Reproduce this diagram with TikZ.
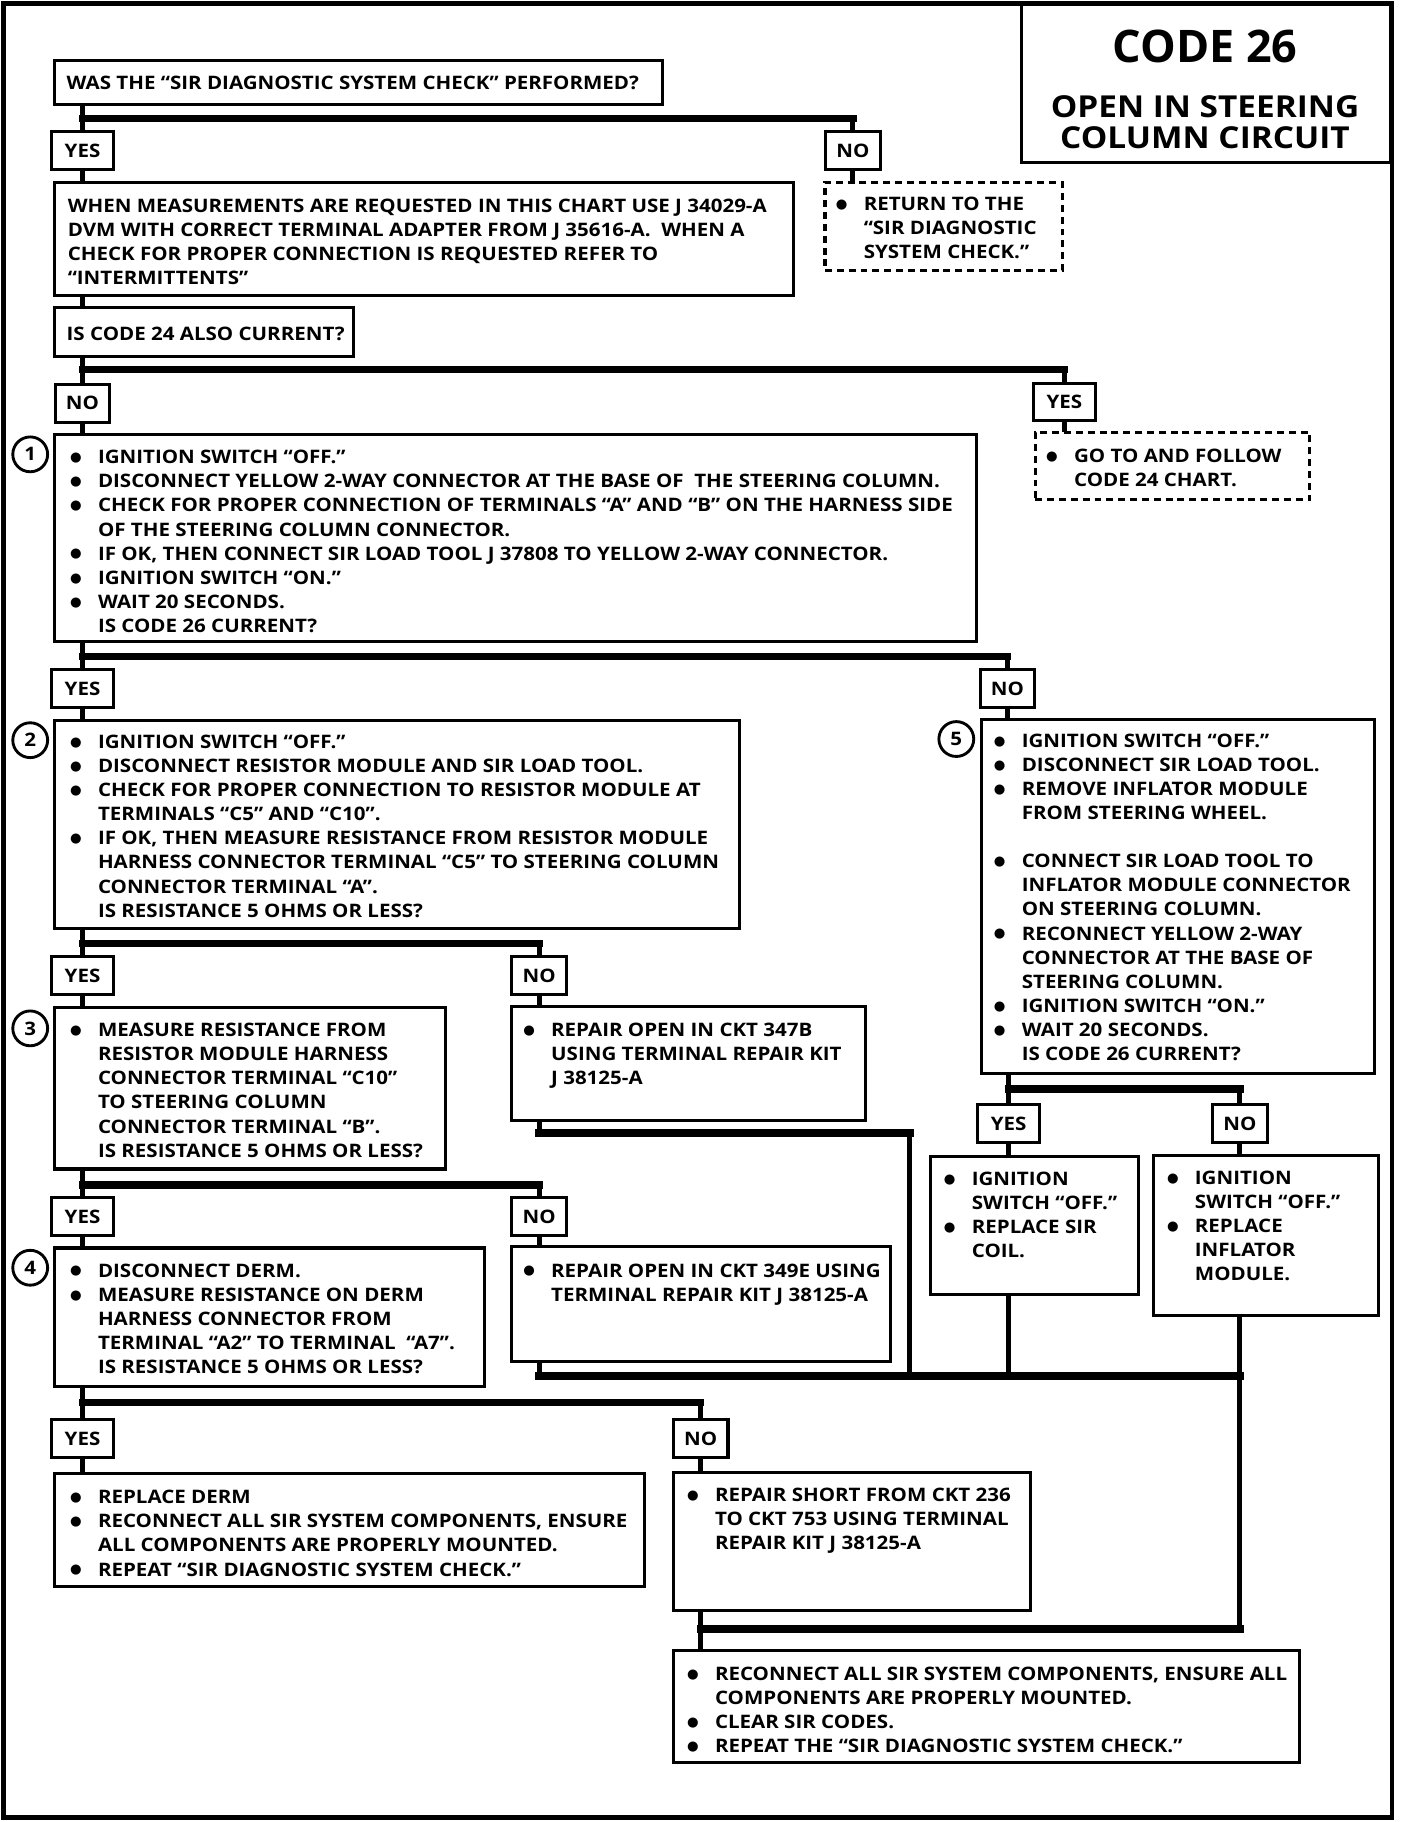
\documentclass[tikz,border=0pt]{standalone}
\usepackage{fontspec}
\setmainfont{Open Sans}[FakeStretch=1.105]
\newfontfamily\plainsans{Open Sans}
\newfontfamily\dotfont{DejaVu Sans}
\usetikzlibrary{calc}

\newcommand{\itm}{\makebox[0.48cm][l]{\raisebox{1.1pt}{\dotfont\fontsize{6.5}{6.5}\selectfont ●}}}
\newcommand{\hng}{\hspace*{0.48cm}}

\begin{document}
\begin{tikzpicture}[
    x=0.02cm, y=-0.02cm,
    font=\bfseries\fontsize{9.1}{11.8}\selectfont,
    sz/.style 2 args={minimum width=#1*0.02cm, minimum height=#2*0.02cm},
    box/.style={draw, line width=1.5pt, anchor=north west, inner sep=0pt, outer sep=0pt},
    dbox/.style={box, dashed, dash pattern=on 3.4pt off 2.4pt},
    txt/.style={anchor=north west, inner sep=0pt, align=left},
    tag/.style={draw, line width=1.5pt, inner sep=0pt, outer sep=0pt, minimum height=0.65cm},
    tagyes/.style={tag, minimum width=1.06cm},
    tagno/.style={tag, minimum width=0.94cm},
    num/.style={draw, circle, line width=1.4pt, inner sep=0pt, minimum size=0.6cm},
    stem/.style={line width=2.5pt},
    bar/.style={line width=3.7pt, line cap=rect}
]
\useasboundingbox (0,0) rectangle (1212,1568);

% Frame and title
\draw[line width=2.3pt] (3,3) rectangle (1198,1564);
\node[box, sz={318}{137}] (title) at (879,3) {};
\node[font=\plainsans\bfseries\fontsize{22}{24}\selectfont] (code) at (1037,40) {CODE 26};
\node[font=\bfseries\fontsize{14.8}{15}\selectfont] (what1) at (1037,91.5) {OPEN IN STEERING};
\node[font=\bfseries\fontsize{14.8}{15}\selectfont] (what2) at (1037,118.4) {COLUMN CIRCUIT};

% First question
\node[box, sz={523}{38}] (q0) at (47,52) {};
\node[txt] (q0-t) at (57,65.2) {WAS THE “SIR DIAGNOSTIC SYSTEM CHECK” PERFORMED?};

\node[tagyes] (yes0) at (71,129.5) {YES};
\node[tagno] (no0) at (734,129.5) {NO};
\coordinate (f0) at (71,102);
\draw[stem] (q0.south -| f0) -- (yes0);
\draw[bar] (f0) -- (f0 -| no0);
\draw[stem] (f0 -| no0) -- (no0);

\node[box, sz={636}{97}] (intro) at (47,157) {};
\node[txt] (intro-t) at (58,170.7) {WHEN MEASUREMENTS ARE REQUESTED IN THIS CHART USE J 34029-A\\
DVM WITH CORRECT TERMINAL ADAPTER FROM J 35616-A.\ \ WHEN A\\
CHECK FOR PROPER CONNECTION IS REQUESTED REFER TO\\
“INTERMITTENTS”};
\node[dbox, sz={204}{76}] (ret) at (710,157) {};
\node[txt] (ret-t) at (719,169.2) {\itm RETURN TO THE\\
\hng “SIR DIAGNOSTIC\\
\hng SYSTEM CHECK.”};
\draw[stem] (yes0) -- (yes0 |- intro.north);
\draw[stem] (no0) -- (no0 |- ret.north);

% Code 24 question
\node[box, sz={257}{42}] (q24) at (47,265) {};
\node[txt] (q24-t) at (57,281.5) {IS CODE 24 ALSO CURRENT?};
\draw[stem] (intro.south -| f0) -- (q24.north -| f0);

\node[tagno] (no1) at (71,347) {NO};
\node[tagyes] (yes1) at (916,346) {YES};
\coordinate (f1) at (71,318);
\draw[stem] (q24.south -| f1) -- (no1);
\draw[bar] (f1) -- (f1 -| yes1);
\draw[stem] (f1 -| yes1) -- (yes1);

\node[dbox, sz={236}{58}] (go24) at (891,372) {};
\node[txt] (go24-t) at (900,386.2) {\itm GO TO AND FOLLOW\\
\hng CODE 24 CHART.};
\draw[stem] (yes1) -- (yes1 |- go24.north);

% Step 1
\node[box, sz={793}{178}] (step1) at (47,374) {};
\node[num] (n1) at (26,391) {1};
\node[txt] (step1-t) at (60,387.2) {\itm IGNITION SWITCH “OFF.”\\
\itm DISCONNECT YELLOW 2-WAY CONNECTOR AT THE BASE OF\ \ THE STEERING COLUMN.\\
\itm CHECK FOR PROPER CONNECTION OF TERMINALS “A” AND “B” ON THE HARNESS SIDE\\
\hng OF THE STEERING COLUMN CONNECTOR.\\
\itm IF OK, THEN CONNECT SIR LOAD TOOL J 37808 TO YELLOW 2-WAY CONNECTOR.\\
\itm IGNITION SWITCH “ON.”\\
\itm WAIT 20 SECONDS.\\
\hng IS CODE 26 CURRENT?};
\draw[stem] (no1) -- (no1 |- step1.north);

\node[tagyes] (yes2) at (71,592.5) {YES};
\node[tagno] (no2) at (867,592.5) {NO};
\coordinate (f2) at (71,565);
\draw[stem] (step1.south -| f2) -- (yes2);
\draw[bar] (f2) -- (f2 -| no2);
\draw[stem] (f2 -| no2) -- (no2);

% Step 2
\node[box, sz={589}{179}] (step2) at (47,620) {};
\node[num] (n2) at (26,637) {2};
\node[txt] (step2-t) at (60,632.2) {\itm IGNITION SWITCH “OFF.”\\
\itm DISCONNECT RESISTOR MODULE AND SIR LOAD TOOL.\\
\itm CHECK FOR PROPER CONNECTION TO RESISTOR MODULE AT\\
\hng TERMINALS “C5” AND “C10”.\\
\itm IF OK, THEN MEASURE RESISTANCE FROM RESISTOR MODULE\\
\hng HARNESS CONNECTOR TERMINAL “C5” TO STEERING COLUMN\\
\hng CONNECTOR TERMINAL “A”.\\
\hng IS RESISTANCE 5 OHMS OR LESS?};
\draw[stem] (yes2) -- (yes2 |- step2.north);

% Step 5
\node[box, sz={338}{305}] (step5) at (845,619) {};
\node[num] (n5) at (823,636) {5};
\node[txt] (step5-t) at (855,631.2) {\itm IGNITION SWITCH “OFF.”\\
\itm DISCONNECT SIR LOAD TOOL.\\
\itm REMOVE INFLATOR MODULE\\
\hng FROM STEERING WHEEL.\\[11.8pt]
\itm CONNECT SIR LOAD TOOL TO\\
\hng INFLATOR MODULE CONNECTOR\\
\hng ON STEERING COLUMN.\\
\itm RECONNECT YELLOW 2-WAY\\
\hng CONNECTOR AT THE BASE OF\\
\hng STEERING COLUMN.\\
\itm IGNITION SWITCH “ON.”\\
\itm WAIT 20 SECONDS.\\
\hng IS CODE 26 CURRENT?};
\draw[stem] (no2) -- (no2 |- step5.north);

\node[tagyes] (yes5) at (868,967) {YES};
\node[tagno] (no5) at (1067,967) {NO};
\coordinate (f5) at (868,937);
\draw[stem] (step5.south -| f5) -- (yes5);
\draw[bar] (f5) -- (f5 -| no5);
\draw[stem] (f5 -| no5) -- (no5);

\node[box, sz={179}{119}] (coil) at (801,995) {};
\node[txt] (coil-t) at (812,1008.2) {\itm IGNITION\\
\hng SWITCH “OFF.”\\
\itm REPLACE SIR\\
\hng COIL.};
\node[box, sz={193}{138}] (infl) at (993,994) {};
\node[txt] (infl-t) at (1004,1007.2) {\itm IGNITION\\
\hng SWITCH “OFF.”\\
\itm REPLACE\\
\hng INFLATOR\\
\hng MODULE.};
\draw[stem] (yes5) -- (yes5 |- coil.north);
\draw[stem] (no5) -- (no5 |- infl.north);

% Step 3
\node[tagyes] (yes3) at (71,839.5) {YES};
\node[tagno] (no3) at (464,839.5) {NO};
\coordinate (f3) at (71,812);
\draw[stem] (step2.south -| f3) -- (yes3);
\draw[bar] (f3) -- (f3 -| no3);
\draw[stem] (f3 -| no3) -- (no3);

\node[box, sz={336}{139}] (step3) at (47,867) {};
\node[num] (n3) at (26,885) {3};
\node[txt] (step3-t) at (60,880.2) {\itm MEASURE RESISTANCE FROM\\
\hng RESISTOR MODULE HARNESS\\
\hng CONNECTOR TERMINAL “C10”\\
\hng TO STEERING COLUMN\\
\hng CONNECTOR TERMINAL “B”.\\
\hng IS RESISTANCE 5 OHMS OR LESS?};
\node[box, sz={305}{98}] (rep1) at (440,866) {};
\node[txt] (rep1-t) at (450,880.2) {\itm REPAIR OPEN IN CKT 347B\\
\hng USING TERMINAL REPAIR KIT\\
\hng J 38125-A};
\draw[stem] (yes3) -- (yes3 |- step3.north);
\draw[stem] (no3) -- (no3 |- rep1.north);

% Step 4
\node[tagyes] (yes4) at (71,1047) {YES};
\node[tagno] (no4) at (464,1047) {NO};
\coordinate (f4) at (71,1020);
\draw[stem] (step3.south -| f4) -- (yes4);
\draw[bar] (f4) -- (f4 -| no4);
\draw[stem] (f4 -| no4) -- (no4);

\node[box, sz={370}{119}] (step4) at (47,1074) {};
\node[num] (n4) at (26,1091) {4};
\node[txt] (step4-t) at (60,1087.2) {\itm DISCONNECT DERM.\\
\itm MEASURE RESISTANCE ON DERM\\
\hng HARNESS CONNECTOR FROM\\
\hng TERMINAL “A2” TO TERMINAL\ \ “A7”.\\
\hng IS RESISTANCE 5 OHMS OR LESS?};
\node[box, sz={326}{99}] (rep2) at (440,1073) {};
\node[txt] (rep2-t) at (450,1087.2) {\itm REPAIR OPEN IN CKT 349E USING\\
\hng TERMINAL REPAIR KIT J 38125-A};
\draw[stem] (yes4) -- (yes4 |- step4.north);
\draw[stem] (no4) -- (no4 |- rep2.north);

% DERM result
\node[tagyes] (yes6) at (71,1238) {YES};
\node[tagno] (no6) at (603,1238) {NO};
\coordinate (f6) at (71,1207);
\draw[stem] (step4.south -| f6) -- (yes6);
\draw[bar] (f6) -- (f6 -| no6);
\draw[stem] (f6 -| no6) -- (no6);

\node[box, sz={508}{97}] (derm) at (47,1268) {};
\node[txt] (derm-t) at (60,1282.2) {\itm REPLACE DERM\\
\itm RECONNECT ALL SIR SYSTEM COMPONENTS, ENSURE\\
\hng ALL COMPONENTS ARE PROPERLY MOUNTED.\\
\itm REPEAT “SIR DIAGNOSTIC SYSTEM CHECK.”};
\node[box, sz={307}{119}] (short) at (580,1267) {};
\node[txt] (short-t) at (591,1280.2) {\itm REPAIR SHORT FROM CKT 236\\
\hng TO CKT 753 USING TERMINAL\\
\hng REPAIR KIT J 38125-A};
\draw[stem] (yes6) -- (yes6 |- derm.north);
\draw[stem] (no6) -- (no6 |- short.north);

% Final step
\node[box, sz={538}{97}] (final) at (580,1420) {};
\node[txt] (final-t) at (591,1434.2) {\itm RECONNECT ALL SIR SYSTEM COMPONENTS, ENSURE ALL\\
\hng COMPONENTS ARE PROPERLY MOUNTED.\\
\itm CLEAR SIR CODES.\\
\itm REPEAT THE “SIR DIAGNOSTIC SYSTEM CHECK.”};

% Return lines
\coordinate (m1) at (464,975);
\coordinate (m1r) at (783,975);
\coordinate (m2) at (464,1184);
\coordinate (m2r) at (1067,1184);
\coordinate (m3) at (603,1402);
\coordinate (m3r) at (1067,1402);
\draw[stem] (rep1.south -| m1) -- (m1);
\draw[bar] (m1) -- (m1r);
\draw[stem] (m1r) -- (m1r |- m2);
\draw[stem] (rep2.south -| m2) -- (m2);
\draw[bar] (m2) -- (m2r);
\draw[stem] (coil.south -| f5) -- (f5 |- m2);
\draw[stem] (infl.south -| m3r) -- (m3r);
\draw[bar] (m3) -- (m3r);
\draw[stem] (short.south -| m3) -- (final.north -| m3);

\end{tikzpicture}
\end{document}
